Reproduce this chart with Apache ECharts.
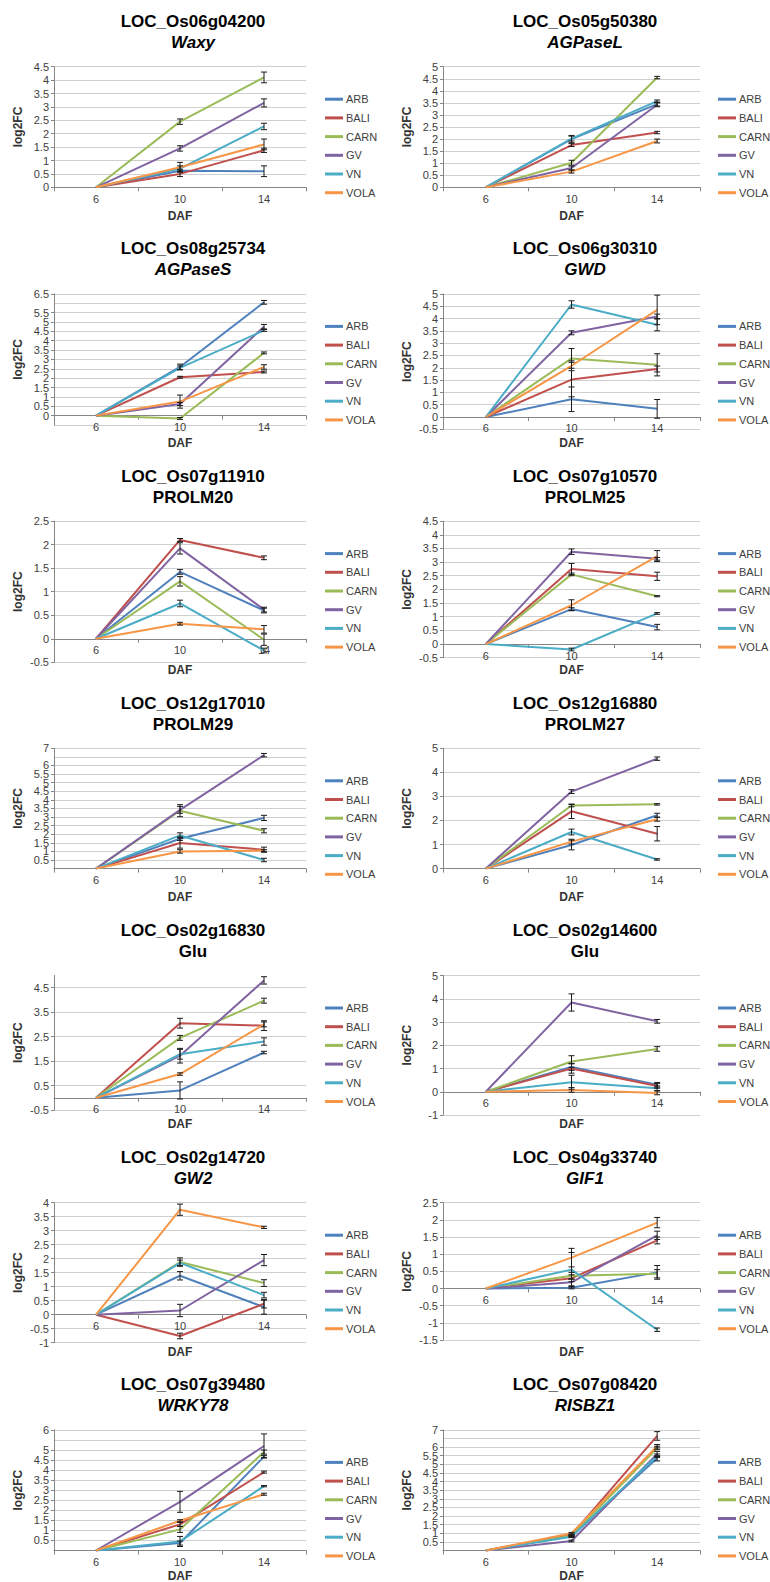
<!DOCTYPE html>
<html><head><meta charset="utf-8">
<script src="https://cdn.jsdelivr.net/npm/echarts@6/dist/echarts.min.js"></script>
<style>html,body{margin:0;padding:0;background:#fff}#c{width:770px;height:1582px}</style>
</head><body><div id="c"></div>
<script>
// ---------------- DATA ----------------
const categories = ['6', '10', '14'];
const cultivars = ['ARB', 'BALI', 'CARN', 'GV', 'VN', 'VOLA'];
const loci = ['LOC_Os06g04200','LOC_Os05g50380','LOC_Os08g25734','LOC_Os06g30310','LOC_Os07g11910','LOC_Os07g10570','LOC_Os12g17010','LOC_Os12g16880','LOC_Os02g16830','LOC_Os02g14600','LOC_Os02g14720','LOC_Os04g33740','LOC_Os07g39480','LOC_Os07g08420'];
const geneNames = ['Waxy','AGPaseL','AGPaseS','GWD','PROLM20','PROLM25','PROLM29','PROLM27','Glu','Glu','GW2','GIF1','WRKY78','RISBZ1'];
const italicName = [true,true,true,true,false,false,false,false,false,false,true,true,true,true];
const yMin  = [0, 0, -0.5, -0.5, -0.5, -0.5, 0, 0, -0.5, -1, -1, -1.5, 0, 0];
const yMax  = [4.5, 5, 6.5, 5, 2.5, 4.5, 7, 5, 5, 5, 4, 2.5, 6, 7];
const yStep = [0.5, 0.5, 0.5, 0.5, 0.5, 0.5, 0.5, 1, 1, 1, 0.5, 0.5, 0.5, 0.5];

// rows: ARB, BALI, CARN, GV, VN, VOLA ; columns: DAF 6, 10, 14
const waxyMean    = [[0,0.62,0.6],[0,0.5,1.38],[0,2.45,4.1],[0,1.45,3.15],[0,0.7,2.27],[0,0.75,1.6]];
const waxyErr     = [[0,0.05,0.2],[0,0.1,0.08],[0,0.1,0.2],[0,0.1,0.15],[0,0.1,0.12],[0,0.18,0.2]];
const agpLMean    = [[0,2.0,3.45],[0,1.75,2.27],[0,1.02,4.55],[0,0.8,3.42],[0,2.02,3.57],[0,0.65,1.92]];
const agpLErr     = [[0,0.15,0.08],[0,0.06,0.05],[0,0.1,0.05],[0,0.08,0.08],[0,0.1,0.05],[0,0.06,0.08]];
const agpSMean    = [[0,2.6,6.05],[0,2.05,2.33],[0,-0.15,3.35],[0,0.62,4.75],[0,2.55,4.55],[0,0.75,2.6]];
const agpSErr     = [[0,0.15,0.1],[0,0.05,0.05],[0,0.05,0.05],[0,0.08,0.12],[0,0.1,0.05],[0,0.35,0.12]];
const gwdMean     = [[0,0.72,0.33],[0,1.52,1.95],[0,2.38,2.12],[0,3.42,4.08],[0,4.57,3.75],[0,2.08,4.35]];
const gwdErr      = [[0,0.5,0.38],[0,0.7,0.12],[0,0.4,0.45],[0,0.08,0.1],[0,0.15,0.25],[0,0.2,0.6]];
const prolm20Mean = [[0,1.42,0.6],[0,2.1,1.72],[0,1.22,-0.02],[0,1.92,0.62],[0,0.75,-0.25],[0,0.32,0.2]];
const prolm20Err  = [[0,0.05,0.05],[0,0.03,0.04],[0,0.1,0.12],[0,0.12,0.05],[0,0.07,0.05],[0,0.03,0.08]];
const prolm25Mean = [[0,1.28,0.62],[0,2.75,2.48],[0,2.55,1.75],[0,3.38,3.12],[0,-0.2,1.12],[0,1.42,3.22]];
const prolm25Err  = [[0,0.05,0.1],[0,0.2,0.15],[0,0.05,0.02],[0,0.1,0.05],[0,0.05,0.03],[0,0.2,0.2]];
const prolm29Mean = [[0,1.74,2.95],[0,1.49,1.1],[0,3.37,2.2],[0,3.42,6.6],[0,1.93,0.5],[0,1.0,1.05]];
const prolm29Err  = [[0,0.1,0.15],[0,0.3,0.15],[0,0.35,0.12],[0,0.2,0.1],[0,0.15,0.1],[0,0.1,0.05]];
const prolm27Mean = [[0,0.98,2.22],[0,2.38,1.45],[0,2.62,2.67],[0,3.2,4.57],[0,1.52,0.38],[0,1.12,2.05]];
const prolm27Err  = [[0,0.2,0.08],[0,0.3,0.3],[0,0.05,0.03],[0,0.08,0.07],[0,0.12,0.03],[0,0.1,0.08]];
const glu1Mean    = [[0,0.3,1.85],[0,3.05,2.95],[0,2.45,3.97],[0,1.72,4.8],[0,1.78,2.3],[0,0.97,3.0]];
const glu1Err     = [[0,0.35,0.05],[0,0.2,0.2],[0,0.1,0.1],[0,0.3,0.15],[0,0.2,0.15],[0,0.05,0.1]];
const glu2Mean    = [[0,1.07,0.3],[0,1.0,0.25],[0,1.3,1.84],[0,3.84,3.03],[0,0.41,0.15],[0,0.08,-0.05]];
const glu2Err     = [[0,0.15,0.1],[0,0.2,0.1],[0,0.25,0.1],[0,0.37,0.08],[0,0.3,0.1],[0,0.1,0.08]];
const gw2Mean     = [[0,1.39,0.27],[0,-0.76,0.39],[0,1.88,1.13],[0,0.15,1.95],[0,1.85,0.7],[0,3.75,3.12]];
const gw2Err      = [[0,0.15,0.25],[0,0.1,0.15],[0,0.15,0.12],[0,0.22,0.2],[0,0.1,0.1],[0,0.2,0.04]];
const gif1Mean    = [[0,0.02,0.47],[0,0.3,1.4],[0,0.37,0.43],[0,0.18,1.55],[0,0.55,-1.2],[0,0.9,1.92]];
const gif1Err     = [[0,0.03,0.2],[0,0.1,0.1],[0,0.1,0.12],[0,0.1,0.12],[0,0.5,0.05],[0,0.27,0.15]];
const wrkyMean    = [[0,0.37,4.67],[0,1.3,3.9],[0,1.05,4.9],[0,2.42,5.2],[0,0.45,3.2],[0,1.48,2.8]];
const wrkyErr     = [[0,0.1,0.05],[0,0.1,0.05],[0,0.15,0.1],[0,0.52,0.6],[0,0.25,0.03],[0,0.05,0.05]];
const risbzMean   = [[0,0.85,5.35],[0,0.9,6.65],[0,0.85,5.95],[0,0.55,5.6],[0,0.8,5.5],[0,1.0,6.05]];
const risbzErr    = [[0,0.05,0.15],[0,0.05,0.25],[0,0.05,0.1],[0,0.05,0.15],[0,0.05,0.1],[0,0.05,0.1]];

const panelMeans = [waxyMean, agpLMean, agpSMean, gwdMean, prolm20Mean, prolm25Mean, prolm29Mean, prolm27Mean, glu1Mean, glu2Mean, gw2Mean, gif1Mean, wrkyMean, risbzMean];
const panelErrs  = [waxyErr, agpLErr, agpSErr, gwdErr, prolm20Err, prolm25Err, prolm29Err, prolm27Err, glu1Err, glu2Err, gw2Err, gif1Err, wrkyErr, risbzErr];

// ---------------- STYLE / LAYOUT ----------------
const colors = ['#4F81BD', '#C0504D', '#9BBB59', '#8064A2', '#4BACC6', '#F79646'];
const FONT = '"Liberation Sans", Arial, sans-serif';
const cols = [
  { gl: 54, gr: 306, legend: 325, title: 193 },
  { gl: 443, gr: 700, legend: 718, title: 585 }
];
const ROW_PITCH = 227.2;
const plotBottom = [187.3, 187.3, 425, 429.3, 662.3, 657.7, 868.6, 868.6, 1110, 1115, 1342.7, 1340, 1550.5, 1550.5];

const grids = [], xAxes = [], yAxes = [], series = [], legends = [], graphics = [];

for (let p = 0; p < 14; p++) {
  const r = Math.floor(p / 2), c = cols[p % 2];
  const top = 66.7 + ROW_PITCH * r;
  const bottom = plotBottom[p];
  const h = bottom - top;
  grids.push({ left: c.gl, top: top, width: c.gr - c.gl, height: h });
  // the category axis crosses the value axis at 0 (as in the original), labels follow it
  const crossOffset = -h * (0 - yMin[p]) / (yMax[p] - yMin[p]);
  xAxes.push({
    type: 'category', gridIndex: p, data: categories, boundaryGap: true,
    offset: crossOffset,
    axisLine: { onZero: false, lineStyle: { color: '#868686', width: 1 } },
    axisTick: { show: true, length: 4, lineStyle: { color: '#868686' } },
    axisLabel: { fontSize: 11, color: '#404040', fontFamily: FONT, margin: 6 },
    splitLine: { show: false }
  });
  const onInterval = Math.abs(Math.round(yMax[p] / yStep[p] - yMin[p] / yStep[p]) - (yMax[p] - yMin[p]) / yStep[p]) < 1e-9;
  yAxes.push({
    type: 'value', gridIndex: p, min: yMin[p], max: yMax[p], interval: yStep[p],
    name: 'log2FC', nameLocation: 'middle', nameRotate: 90, nameGap: 30,
    nameTextStyle: { fontSize: 12, fontWeight: 'bold', color: '#333', fontFamily: FONT },
    axisLine: { show: true, onZero: false, lineStyle: { color: '#868686', width: 1 } },
    axisTick: { show: true, length: 3, lineStyle: { color: '#868686' } },
    axisLabel: { fontSize: 11, color: '#404040', fontFamily: FONT, margin: 5,
      showMaxLabel: onInterval },
    splitLine: { show: true, showMaxLine: onInterval, lineStyle: { color: '#CFCFCF', width: 1 } }
  });
  for (let k = 0; k < cultivars.length; k++) {
    series.push({
      type: 'line', name: cultivars[k], xAxisIndex: p, yAxisIndex: p,
      data: panelMeans[p][k], symbol: 'none', z: 3,
      lineStyle: { color: colors[k], width: 2 }, itemStyle: { color: colors[k] }
    });
  }
  const errData = [];
  for (let k = 0; k < cultivars.length; k++) {
    for (let i = 1; i < categories.length; i++) {
      if (panelErrs[p][k][i] > 0) errData.push([i, panelMeans[p][k][i], panelErrs[p][k][i]]);
    }
  }
  series.push({
    type: 'custom', xAxisIndex: p, yAxisIndex: p, data: errData, z: 4,
    renderItem: function (params, api) {
      const i = api.value(0), m = api.value(1), e = api.value(2);
      const lo = api.coord([i, m - e]), hi = api.coord([i, m + e]);
      const cap = 3, st = { stroke: '#1a1a1a', lineWidth: 1 };
      return { type: 'group', children: [
        { type: 'line', shape: { x1: lo[0], y1: lo[1], x2: hi[0], y2: hi[1] }, style: st },
        { type: 'line', shape: { x1: hi[0] - cap, y1: hi[1], x2: hi[0] + cap, y2: hi[1] }, style: st },
        { type: 'line', shape: { x1: lo[0] - cap, y1: lo[1], x2: lo[0] + cap, y2: lo[1] }, style: st }
      ] };
    }
  });
  legends.push({
    orient: 'vertical', left: c.legend, top: top + 26, padding: 0,
    itemWidth: 18, itemHeight: 3, itemGap: 5.7, icon: 'rect', selectedMode: false,
    data: cultivars,
    textStyle: { fontSize: 11, color: '#404040', fontFamily: FONT, lineHeight: 13, padding: [0, 0, 0, -2] }
  });
  graphics.push({ type: 'text', x: c.title, y: top - 45, style: {
    text: loci[p], fontSize: 17, fontWeight: 'bold', fontFamily: FONT, fill: '#000',
    align: 'center', verticalAlign: 'middle' } });
  graphics.push({ type: 'text', x: c.title, y: top - 24, style: {
    text: geneNames[p], fontSize: 17, fontWeight: 'bold', fontStyle: italicName[p] ? 'italic' : 'normal',
    fontFamily: FONT, fill: '#000', align: 'center', verticalAlign: 'middle' } });
  graphics.push({ type: 'text', x: (c.gl + c.gr) / 2, y: Math.min(215.5 + ROW_PITCH * r, 1575.5), style: {
    text: 'DAF', fontSize: 12, fontWeight: 'bold', fontFamily: FONT, fill: '#333',
    align: 'center', verticalAlign: 'middle' } });
}

const chart = echarts.init(document.getElementById('c'), null, { renderer: 'svg' });
chart.setOption({
  animation: false,
  backgroundColor: '#fff',
  grid: grids, xAxis: xAxes, yAxis: yAxes, series: series, legend: legends,
  graphic: graphics
});
</script></body></html>
